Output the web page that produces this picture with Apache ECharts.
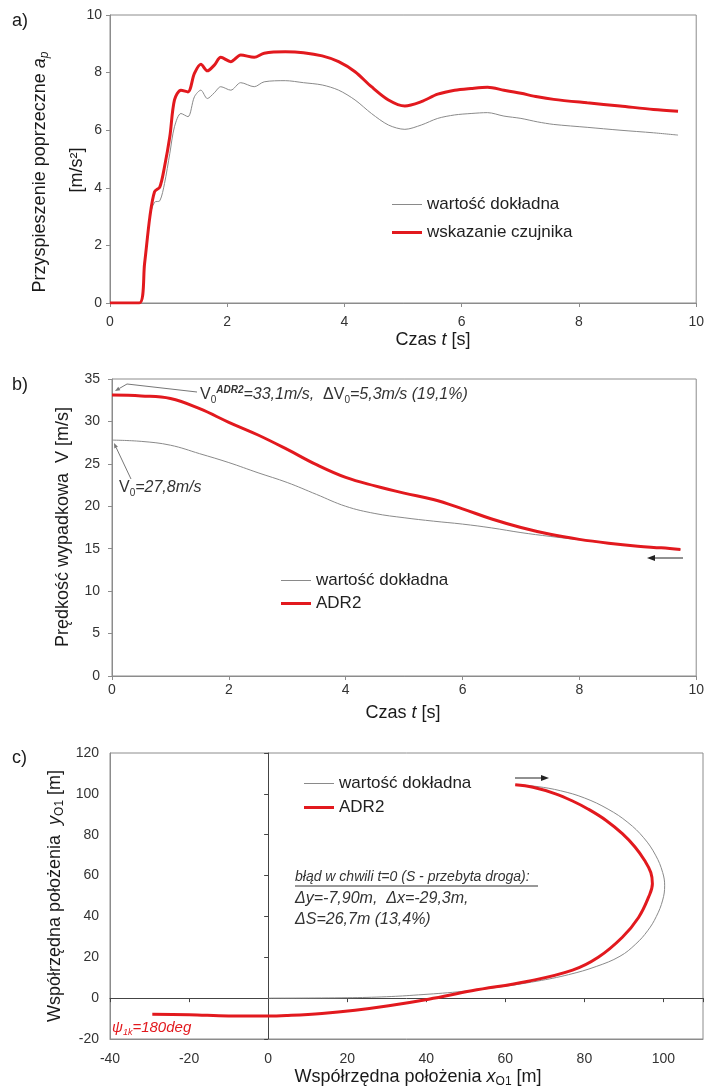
<!DOCTYPE html>
<html>
<head>
<meta charset="utf-8">
<title>Przyspieszenie, prędkość i położenie</title>
<script src="https://cdn.jsdelivr.net/npm/echarts@6/dist/echarts.min.js"></script>
<style>
  html, body { margin: 0; padding: 0; background: #fff; }
  #chart { width: 707px; height: 1088px; }
</style>
</head>
<body>
<div id="chart"></div>
<script>
// a) przyspieszenie poprzeczne
const tA = [0, 0.5, 0.59, 0.68, 0.76, 0.85, 0.93, 1.02, 1.10, 1.21, 1.33, 1.44, 1.55, 1.66, 1.78, 1.89, 2.06, 2.23, 2.46, 2.63, 2.99, 3.30, 3.62, 3.90, 4.18, 4.46, 4.75, 5.03, 5.31, 5.59, 5.88, 6.16, 6.44, 6.72, 7.01, 7.29, 7.57, 8.14, 8.70, 9.27, 9.69]
const aExact = [0, 0, 1.37, 2.99, 3.5, 3.55, 4.15, 5.19, 6.12, 6.58, 6.47, 7.16, 7.39, 7.10, 7.30, 7.51, 7.39, 7.65, 7.51, 7.68, 7.72, 7.65, 7.57, 7.39, 7.05, 6.58, 6.18, 6.03, 6.18, 6.41, 6.53, 6.58, 6.61, 6.49, 6.41, 6.29, 6.20, 6.10, 6.00, 5.91, 5.83]
const aSensor = [0, 0, 1.37, 2.99, 3.86, 4.03, 4.73, 5.77, 7.05, 7.39, 7.33, 7.97, 8.29, 8.06, 8.26, 8.53, 8.38, 8.61, 8.53, 8.67, 8.72, 8.69, 8.58, 8.38, 8.03, 7.51, 7.05, 6.84, 6.99, 7.25, 7.39, 7.45, 7.49, 7.39, 7.28, 7.16, 7.07, 6.95, 6.84, 6.72, 6.66]

// b) prędkość wypadkowa
const tB = [0, 0.5, 1.0, 1.5, 2.0, 2.5, 3.0, 3.5, 4.0, 4.5, 5.0, 5.5, 6.0, 6.5, 7.0, 7.5, 8.0, 8.5, 9.0, 9.4, 9.73]
const vExact = [27.8, 27.65, 27.2, 26.2, 25.15, 23.95, 22.8, 21.4, 20.0, 19.15, 18.65, 18.25, 17.9, 17.45, 16.9, 16.45, 16.05, 15.65, 15.3, 15.1, 14.9]
const vAdr = [33.1, 33.0, 32.7, 31.5, 29.9, 28.4, 26.7, 24.9, 23.4, 22.4, 21.55, 20.8, 19.7, 18.5, 17.5, 16.7, 16.1, 15.65, 15.3, 15.1, 14.9]

// c) tor ruchu (od t=0 do końca)
const xExactC = [0, 20, 30, 38, 48, 58, 68, 76, 83, 89, 93, 96, 98.2, 99.8, 100.3, 99.8, 98, 95, 91, 86, 80, 74, 68, 62.5]
const yExactC = [0, 0.2, 0.7, 1.6, 3.1, 5.3, 8.3, 11.5, 15.5, 20.5, 26.5, 33, 40, 48, 55, 61.5, 70, 78.5, 86, 92.5, 98, 101.5, 103.6, 104.4]
const xAdrC = [-29.3, -20, -10, 0, 5, 13.6, 22, 30.5, 40.6, 51.5, 65.8, 77, 83.5, 89.6, 93.7, 96.2, 97.2, 96.8, 95.2, 92.8, 89.6, 85.5, 81, 77, 72.7, 67, 62.5]
const yAdrC = [-7.9, -8.1, -8.7, -8.8, -8.5, -7.5, -5.9, -3.7, -0.5, 3.6, 8.3, 13.7, 20, 29.8, 39.5, 49.3, 56, 61.5, 67.5, 74, 80.5, 87, 92.5, 96.5, 100, 103.2, 104.4]

const RED = '#e2191e'
const GRAY = '#8a8a8a'
const BOX = '#8c8c8c'
const FONT = '"Liberation Sans", Arial, sans-serif'
// ikony legendy: cienka i gruba kreska
const THIN = 'path://M0,0L30,0L30,1L0,1Z'
const THICK = 'path://M0,0L30,0L30,3L0,3Z'

const chart = echarts.init(document.getElementById('chart'))

function boxAxis (gridIndex, min, max, interval, margin, extra) {
    return Object.assign({
        type: 'value',
        gridIndex: gridIndex,
        min: min,
        max: max,
        interval: interval,
        axisLine: { show: true, onZero: false, lineStyle: { color: BOX } },
        axisTick: { show: true, length: 4, lineStyle: { color: BOX } },
        splitLine: { show: false },
        axisLabel: { margin: margin, color: '#333', fontSize: 14, fontFamily: FONT }
    }, extra || {})
}

// osie przechodzące przez zero (wykres c)
function zeroAxis (gridIndex, min, max, interval, position) {
    return {
        type: 'value',
        gridIndex: gridIndex,
        position: position,
        min: min,
        max: max,
        interval: interval,
        axisLine: { show: true, onZero: true, lineStyle: { color: '#444' } },
        axisTick: { show: true, length: 4, lineStyle: { color: '#444' } },
        axisLabel: { show: false },
        splitLine: { show: false }
    }
}

function arrow (x1, y1, x2, y2, color, head, half) {
    const ang = Math.atan2(y2 - y1, x2 - x1)
    const bx = x2 - head * Math.cos(ang)
    const by = y2 - head * Math.sin(ang)
    const px = -Math.sin(ang) * half
    const py = Math.cos(ang) * half
    return [
        { type: 'line', shape: { x1: x1, y1: y1, x2: bx, y2: by }, style: { stroke: color, lineWidth: 1 } },
        { type: 'polygon', shape: { points: [[x2, y2], [bx + px, by + py], [bx - px, by - py]] }, style: { fill: color } }
    ]
}

function label (x, y, text, opts) {
    return Object.assign({
        type: 'text',
        x: x,
        y: y,
        style: Object.assign({
            text: text,
            fill: '#1a1a1a',
            fontSize: 18,
            fontFamily: FONT,
            align: 'center',
            verticalAlign: 'middle'
        }, opts && opts.style)
    }, opts && opts.el)
}

const rich18 = {
    n: { fontSize: 18, fontFamily: FONT, lineHeight: 22, fill: '#1a1a1a' },
    i: { fontSize: 18, fontFamily: FONT, fontStyle: 'italic', lineHeight: 22, fill: '#1a1a1a' },
    sub: { fontSize: 12, fontFamily: FONT, verticalAlign: 'bottom', lineHeight: 12, fill: '#1a1a1a' }
}
const subItalic = { fontSize: 12, fontFamily: FONT, fontStyle: 'italic', verticalAlign: 'bottom', lineHeight: 12, fill: '#1a1a1a' }

const richNote = {
    n: { fontSize: 16, fontFamily: FONT, lineHeight: 20, fill: '#333' },
    i: { fontSize: 16, fontFamily: FONT, fontStyle: 'italic', lineHeight: 20, fill: '#333' },
    sub: { fontSize: 10, fontFamily: FONT, verticalAlign: 'bottom', lineHeight: 10, fill: '#333' },
    sup: { fontSize: 10, fontFamily: FONT, fontStyle: 'italic', fontWeight: 'bold', verticalAlign: 'top', lineHeight: 10, fill: '#333' }
}

const graphics = [
    label(12, 21, 'a)', { style: { align: 'left' } }),
    label(12, 385, 'b)', { style: { align: 'left' } }),
    label(12, 758, 'c)', { style: { align: 'left' } }),

    // tytuły osi
    label(40, 172, '{n|Przyspieszenie poprzeczne }{i|a}{si|p}', { el: { rotation: Math.PI / 2 }, style: { rich: Object.assign({ si: subItalic }, rich18) } }),
    label(77, 170, '[m/s²]', { el: { rotation: Math.PI / 2 } }),
    label(433, 340, '{n|Czas }{i|t}{n| [s]}', { style: { rich: rich18 } }),
    label(63, 527, 'Prędkość wypadkowa  V [m/s]', { el: { rotation: Math.PI / 2 } }),
    label(403, 713, '{n|Czas }{i|t}{n| [s]}', { style: { rich: rich18 } }),
    label(55, 896, '{n|Współrzędna położenia  }{i|y}{sub|O1}{n| [m]}', { el: { rotation: Math.PI / 2 }, style: { rich: rich18 } }),
    label(418, 1077, '{n|Współrzędna położenia }{i|x}{sub|O1}{n| [m]}', { style: { rich: rich18 } }),

    // opisy b)
    label(200, 395, '{n|V}{sub|0}{sup|ADR2}{i|=33,1m/s,  }{n|ΔV}{sub|0}{i|=5,3m/s (19,1%)}', { style: { align: 'left', rich: richNote } }),
    label(119, 488, '{n|V}{sub|0}{i|=27,8m/s}', { style: { align: 'left', rich: richNote } }),
    { type: 'polyline', shape: { points: [[127, 384], [197, 392]] }, style: { stroke: '#777', lineWidth: 1, fill: null } },
    ...arrow(127, 384, 115, 391, '#777', 5, 2),
    ...arrow(131, 479, 114, 443, '#777', 5, 2),
    ...arrow(683, 558, 647, 558, '#222', 8, 3),

    // opisy c)
    label(295, 877, 'błąd w chwili t=0 (S - przebyta droga):', { style: { align: 'left', fontSize: 14, fontStyle: 'italic', fill: '#333' } }),
    { type: 'line', shape: { x1: 295, y1: 886, x2: 538, y2: 886 }, style: { stroke: '#333', lineWidth: 1 } },
    label(295, 899, 'Δy=-7,90m,  Δx=-29,3m,', { style: { align: 'left', fontSize: 16, fontStyle: 'italic', fill: '#333' } }),
    label(295, 920, 'ΔS=26,7m (13,4%)', { style: { align: 'left', fontSize: 16, fontStyle: 'italic', fill: '#333' } }),
    label(112, 1028, '{p|ψ}{s|1k}{p|=180deg}', {
        style: {
            align: 'left',
            rich: {
                p: { fontSize: 15, fontFamily: FONT, fontStyle: 'italic', lineHeight: 18, fill: RED },
                s: { fontSize: 9, fontFamily: FONT, fontStyle: 'italic', verticalAlign: 'bottom', lineHeight: 9, fill: RED }
            }
        }
    }),
    ...arrow(515, 778, 549, 778, '#222', 8, 3)
]

function legendOf (left, top, gap, names) {
    return {
        left: left,
        top: top,
        orient: 'vertical',
        itemWidth: 30,
        itemHeight: 12,
        itemGap: gap,
        symbolKeepAspect: true,
        textStyle: { fontSize: 17, color: '#222', fontFamily: FONT },
        data: [
            { name: names[0], icon: THIN },
            { name: names[1], icon: THICK }
        ]
    }
}

const option = {
    animation: false,
    backgroundColor: '#fff',
    textStyle: { fontFamily: FONT },
    grid: [
        { left: 110, top: 15, width: 588, height: 288, show: true, borderColor: BOX, borderWidth: 1 },
        { left: 112, top: 379, width: 587, height: 297, show: true, borderColor: BOX, borderWidth: 1 },
        { left: 110, top: 753, width: 593, height: 286, show: true, borderColor: BOX, borderWidth: 1 }
    ],
    legend: [
        legendOf(387, 191, 11, ['wartość dokładna', 'wskazanie czujnika']),
        legendOf(276, 567, 6, ['wartość dokładna', 'ADR2']),
        legendOf(299, 770, 7, ['wartość dokładna', 'ADR2'])
    ],
    xAxis: [
        boxAxis(0, 0, 10, 2, 12),
        boxAxis(1, 0, 10, 2, 7),
        boxAxis(2, -40, 110, 20, 13, { axisTick: { show: false }, axisLabel: { margin: 13, color: '#333', fontSize: 14, fontFamily: FONT, showMaxLabel: false } }),
        zeroAxis(2, -40, 110, 20, 'bottom')
    ],
    yAxis: [
        boxAxis(0, 0, 10, 2, 8),
        boxAxis(1, 0, 35, 5, 12),
        boxAxis(2, -20, 120, 20, 11, { axisTick: { show: false } }),
        zeroAxis(2, -20, 120, 20, 'left')
    ],
    series: [
        {
            name: 'wartość dokładna', type: 'line', xAxisIndex: 0, yAxisIndex: 0, symbol: 'none', smooth: 0.3,
            data: tA.map((t, i) => [t, aExact[i]]),
            lineStyle: { width: 1, color: GRAY }, itemStyle: { color: GRAY }
        },
        {
            name: 'wskazanie czujnika', type: 'line', xAxisIndex: 0, yAxisIndex: 0, symbol: 'none', smooth: 0.3,
            data: tA.map((t, i) => [t, aSensor[i]]),
            lineStyle: { width: 3, color: RED }, itemStyle: { color: RED }
        },
        {
            name: 'wartość dokładna', type: 'line', xAxisIndex: 1, yAxisIndex: 1, symbol: 'none', smooth: 0.4,
            data: tB.map((t, i) => [t, vExact[i]]),
            lineStyle: { width: 1, color: GRAY }, itemStyle: { color: GRAY }
        },
        {
            name: 'ADR2', type: 'line', xAxisIndex: 1, yAxisIndex: 1, symbol: 'none', smooth: 0.4,
            data: tB.map((t, i) => [t, vAdr[i]]),
            lineStyle: { width: 3, color: RED }, itemStyle: { color: RED }
        },
        {
            name: 'wartość dokładna', type: 'line', xAxisIndex: 2, yAxisIndex: 2, symbol: 'none', smooth: 0.4,
            data: xExactC.map((x, i) => [x, yExactC[i]]),
            lineStyle: { width: 1, color: GRAY }, itemStyle: { color: GRAY }
        },
        {
            name: 'ADR2', type: 'line', xAxisIndex: 2, yAxisIndex: 2, symbol: 'none', smooth: 0.4,
            data: xAdrC.map((x, i) => [x, yAdrC[i]]),
            lineStyle: { width: 3, color: RED }, itemStyle: { color: RED }
        }
    ],
    graphic: graphics
}

chart.setOption(option)
</script>
</body>
</html>
